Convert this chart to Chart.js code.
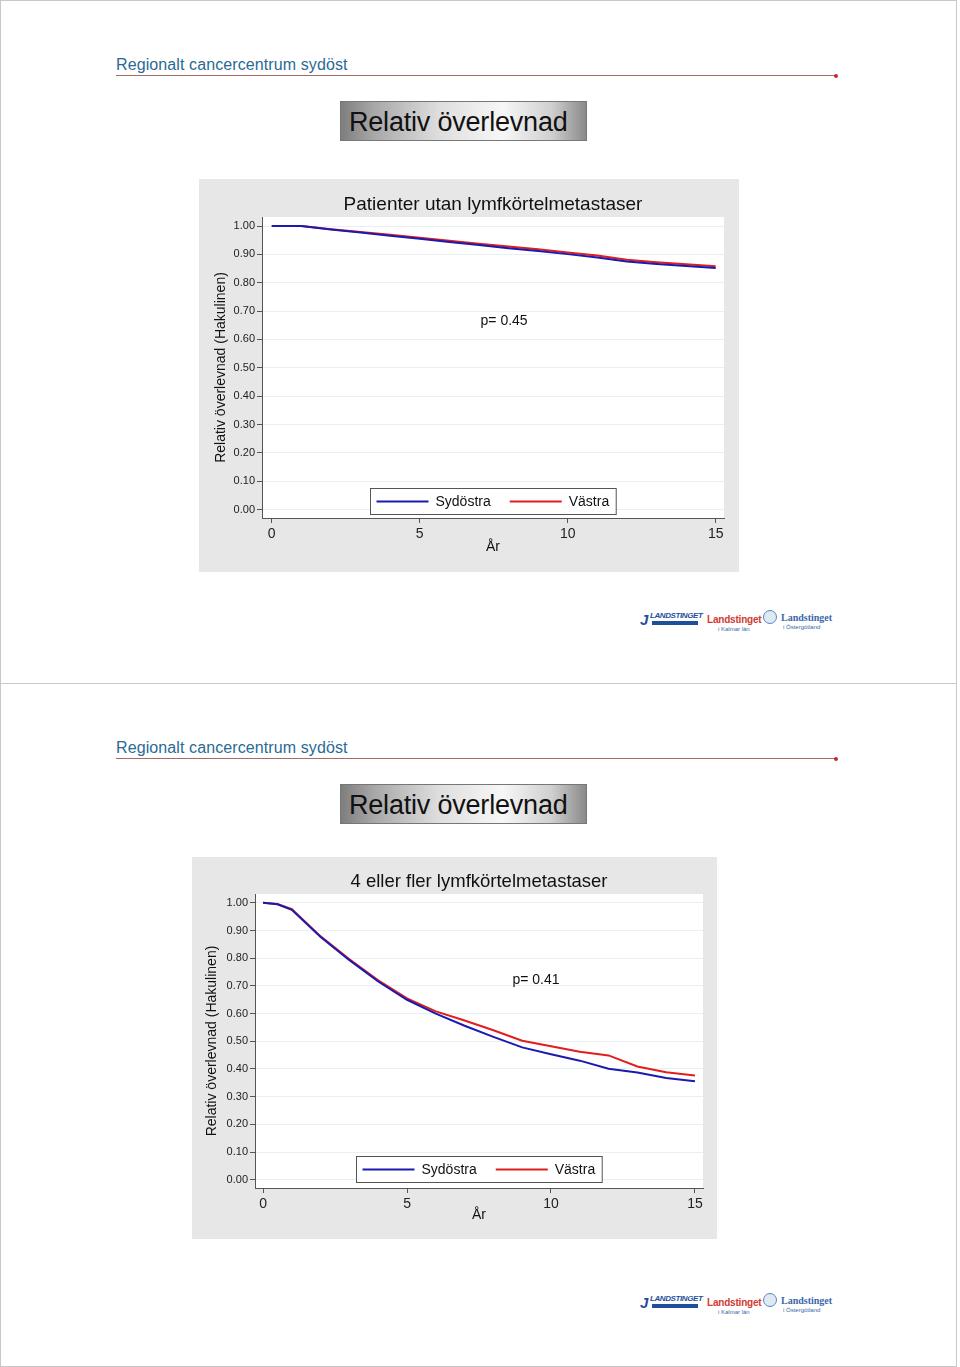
<!DOCTYPE html>
<html>
<head>
<meta charset="utf-8">
<script src="https://cdn.jsdelivr.net/npm/chart.js@4.4.1/dist/chart.umd.min.js"></script>
<style>
  html, body { margin:0; padding:0; background:#ffffff; }
  body { width:960px; height:1367px; position:relative; overflow:hidden; font-family:'Liberation Sans', Arial, sans-serif; }
  .slide { position:absolute; left:0; width:957px; border:1px solid #c8c8c8; box-sizing:border-box; background:#fff; }
  .hdr { position:absolute; left:116px; font-size:16px; color:#2a6a93; letter-spacing:0.1px; }
  .hline { position:absolute; left:116px; width:720px; height:1px; background:#a86a66; }
  .hdot { position:absolute; width:4px; height:4px; border-radius:2px; background:#c0302a; }
  .tbox { position:absolute; left:340px; width:247px; height:40px; box-sizing:border-box;
          border:1px solid #777; font-size:27px; color:#111; line-height:40px; padding-left:8px; letter-spacing:-0.2px;
          background:linear-gradient(to right,#7e7e7e 0%,#a9a9a9 14%,#dedede 40%,#f7f7f7 66%,#cfcfcf 86%,#8a8a8a 100%); }
  canvas { position:absolute; }
  .logo { position:absolute; white-space:nowrap; }
  .l1 { font:italic bold 8px 'Liberation Sans', Arial; color:#1f4e9a; letter-spacing:-0.4px; }
  .l1s { position:absolute; width:46px; height:4px; background:#1f4e9a; }
  .l2 { font:bold 10px 'Liberation Sans', Arial; color:#d23a32; letter-spacing:-0.2px; }
  .l3 { font:bold 10px 'Liberation Serif', serif; color:#3a68a8; }
  .l3s { font:6px 'Liberation Sans', Arial; color:#3a68a8; }
  .circ { position:absolute; width:14px; height:14px; border-radius:7px; border:1px solid #5a86bb; box-sizing:border-box; background:#dfe9f5; }
  .jj { font:italic bold 15px 'Liberation Sans', Arial; color:#1f4e9a; }
</style>
</head>
<body>
<div class="slide" style="top:0;height:684px;"></div>
<div class="slide" style="top:683px;height:684px;"></div>

<!-- slide 1 -->
<div class="hdr" style="top:56px;">Regionalt cancercentrum sydöst</div>
<div class="hline" style="top:75px;"></div>
<div class="hdot" style="left:834px;top:74px;"></div>
<div class="tbox" style="top:101px;">Relativ överlevnad</div>
<canvas id="c1" width="540" height="393" style="left:199px;top:179px;"></canvas>
<div class="logo jj" style="left:640px;top:611px;">J</div>
<div class="logo l1" style="left:650px;top:611px;">LANDSTINGET</div>
<div class="l1s" style="left:652px;top:621px;"></div>
<div class="logo l2" style="left:707px;top:614px;">Landstinget</div>
<div class="logo l3s" style="left:718px;top:626px;">i Kalmar län</div>
<div class="circ" style="left:763px;top:610px;"></div>
<div class="logo l3" style="left:781px;top:612px;">Landstinget</div>
<div class="logo l3s" style="left:783px;top:624px;">i Östergötland</div>

<!-- slide 2 -->
<div class="hdr" style="top:739px;">Regionalt cancercentrum sydöst</div>
<div class="hline" style="top:758px;"></div>
<div class="hdot" style="left:834px;top:757px;"></div>
<div class="tbox" style="top:784px;">Relativ överlevnad</div>
<canvas id="c2" width="525" height="382" style="left:192px;top:857px;"></canvas>
<div class="logo jj" style="left:640px;top:1294px;">J</div>
<div class="logo l1" style="left:650px;top:1294px;">LANDSTINGET</div>
<div class="l1s" style="left:652px;top:1304px;"></div>
<div class="logo l2" style="left:707px;top:1297px;">Landstinget</div>
<div class="logo l3s" style="left:718px;top:1309px;">i Kalmar län</div>
<div class="circ" style="left:763px;top:1293px;"></div>
<div class="logo l3" style="left:781px;top:1295px;">Landstinget</div>
<div class="logo l3s" style="left:783px;top:1307px;">i Östergötland</div>

<script>
// ---------------- data ----------------
const seriesNames = ['Sydöstra', 'Västra'];
const xTickValues = [0, 5, 10, 15];
const yTickValues = [0, 0.1, 0.2, 0.3, 0.4, 0.5, 0.6, 0.7, 0.8, 0.9, 1.0];

const title1 = 'Patienter utan lymfkörtelmetastaser';
const pText1 = 'p= 0.45';
const years1 = [0, 1, 2, 3, 4, 5, 6, 7, 8, 9, 10, 11, 12, 13, 14, 15];
const sydostra1 = [1.000, 1.000, 0.988, 0.977, 0.966, 0.955, 0.944, 0.933, 0.922, 0.912, 0.901, 0.889, 0.875, 0.866, 0.859, 0.852];
const vastra1   = [1.000, 1.000, 0.989, 0.979, 0.969, 0.959, 0.948, 0.938, 0.928, 0.918, 0.907, 0.896, 0.881, 0.872, 0.865, 0.858];

const title2 = '4 eller fler lymfkörtelmetastaser';
const pText2 = 'p= 0.41';
const years2 = [0, 0.5, 1, 2, 3, 4, 5, 6, 7, 8, 9, 10, 11, 12, 13, 14, 15];
const sydostra2 = [1.000, 0.995, 0.975, 0.877, 0.793, 0.716, 0.650, 0.600, 0.556, 0.516, 0.478, 0.453, 0.430, 0.401, 0.387, 0.367, 0.356];
const vastra2   = [1.000, 0.996, 0.977, 0.879, 0.796, 0.720, 0.655, 0.608, 0.575, 0.540, 0.502, 0.482, 0.462, 0.449, 0.409, 0.388, 0.376];

// ---------------- chart setup ----------------
Chart.defaults.font.family = "'Liberation Sans', Arial, sans-serif";
Chart.defaults.color = '#222';

const BLUE = '#1a1ab0';
const RED = '#e01e1e';
const BG = '#e7e7e7';

const bgPlugin = {
  id: 'bgPlugin',
  beforeDraw(chart) {
    const {ctx, chartArea: a} = chart;
    ctx.save();
    ctx.fillStyle = BG;
    ctx.fillRect(0, 0, chart.width, chart.height);
    ctx.fillStyle = '#ffffff';
    ctx.fillRect(a.left, a.top, a.right - a.left, a.bottom - a.top);
    ctx.restore();
  }
};

const notePlugin = {
  id: 'notePlugin',
  afterDraw(chart, args, opts) {
    const {ctx, chartArea: a, scales} = chart;
    ctx.save();
    ctx.font = "14px 'Liberation Sans', Arial, sans-serif";
    ctx.fillStyle = '#111';
    ctx.textAlign = 'center';
    ctx.textBaseline = 'middle';
    ctx.fillText(opts.pText, scales.x.getPixelForValue(opts.pX), scales.y.getPixelForValue(opts.pY));
    const ds = chart.data.datasets;
    const lineLen = 52, padL = 6, gapT = 7, gapB = 19, padR = 7;
    const w0 = ctx.measureText(ds[0].label).width;
    const w1 = ctx.measureText(ds[1].label).width;
    const bw = padL + lineLen + gapT + w0 + gapB + lineLen + gapT + w1 + padR;
    const bh = 26;
    const cx = (a.left + a.right) / 2;
    const bx = Math.round(cx - bw / 2) + 0.5;
    const by = Math.round(a.bottom - opts.legendGap - bh) + 0.5;
    ctx.fillStyle = '#ffffff';
    ctx.fillRect(bx, by, bw, bh);
    ctx.strokeStyle = '#555';
    ctx.lineWidth = 1;
    ctx.strokeRect(bx, by, bw, bh);
    const my = by + bh / 2;
    let x = bx + padL;
    ctx.lineWidth = 2;
    ctx.strokeStyle = ds[0].borderColor;
    ctx.beginPath(); ctx.moveTo(x, my); ctx.lineTo(x + lineLen, my); ctx.stroke();
    x += lineLen + gapT;
    ctx.textAlign = 'left';
    ctx.fillStyle = '#111';
    ctx.fillText(ds[0].label, x, my + 1);
    x += w0 + gapB;
    ctx.strokeStyle = ds[1].borderColor;
    ctx.beginPath(); ctx.moveTo(x, my); ctx.lineTo(x + lineLen, my); ctx.stroke();
    x += lineLen + gapT;
    ctx.fillText(ds[1].label, x, my + 1);
    ctx.restore();
  }
};

function makeChart(id, cfg) {
  const mk = (xs, ys) => xs.map((x, i) => ({x: x, y: ys[i]}));
  return new Chart(document.getElementById(id), {
    type: 'line',
    data: {
      datasets: [
        {label: seriesNames[0], data: mk(cfg.years, cfg.s1), borderColor: BLUE, borderWidth: 2, pointRadius: 0, tension: 0, fill: false},
        {label: seriesNames[1], data: mk(cfg.years, cfg.s2), borderColor: RED, borderWidth: 2, pointRadius: 0, tension: 0, fill: false}
      ]
    },
    options: {
      responsive: false,
      animation: false,
      devicePixelRatio: 1,
      layout: {padding: {left: 0, right: cfg.padRight, top: 0, bottom: 0}},
      plugins: {
        legend: {display: false},
        tooltip: {enabled: false},
        title: {
          display: true, text: cfg.title, fullSize: false, color: '#111',
          font: {size: cfg.titleSize, weight: 'normal'}, padding: {top: cfg.titleTop, bottom: cfg.titleBottom}
        },
        notePlugin: {pText: cfg.pText, pX: cfg.pX, pY: cfg.pY, legendGap: cfg.legendGap}
      },
      scales: {
        x: {
          type: 'linear', min: cfg.xmin, max: 15.28,
          afterBuildTicks: s => { s.ticks = xTickValues.map(v => ({value: v})); },
          afterFit: s => { s.height = cfg.xAxisH; },
          ticks: {font: {size: 14}, color: '#222', padding: 3, callback: v => String(v), maxRotation: 0},
          grid: {display: true, drawOnChartArea: false, drawTicks: true, tickLength: 5, tickColor: '#555'},
          border: {display: true, color: '#555', width: 1},
          title: {display: true, text: 'År', font: {size: 14}, color: '#111', padding: {top: 0, bottom: cfg.xTitlePad}}
        },
        y: {
          type: 'linear', min: -0.03, max: 1.032,
          afterBuildTicks: s => { s.ticks = yTickValues.map(v => ({value: v})); },
          afterFit: s => { s.width = 63; },
          ticks: {font: {size: 11}, color: '#222', padding: 2, callback: v => Number(v).toFixed(2)},
          grid: {display: true, color: '#e9f0f1', lineWidth: 1, drawTicks: true, tickLength: 5, tickColor: '#555'},
          border: {display: true, color: '#555', width: 1},
          title: {display: true, text: 'Relativ överlevnad (Hakulinen)', font: {size: 14}, color: '#111', padding: {top: cfg.yTitlePad, bottom: 0}}
        }
      }
    },
    plugins: [bgPlugin, notePlugin]
  });
}

makeChart('c1', {
  years: years1, s1: sydostra1, s2: vastra1, title: title1, pText: pText1, titleSize: 19,
  pX: 7.85, pY: 0.663, padRight: 15, titleTop: 14, titleBottom: 1.2, xAxisH: 54, xTitlePad: 16,
  yTitlePad: 14, xmin: -0.33, legendGap: 4
});
makeChart('c2', {
  years: years2, s1: sydostra2, s2: vastra2, title: title2, pText: pText2, titleSize: 18.5,
  pX: 9.48, pY: 0.721, padRight: 14, titleTop: 14, titleBottom: 0.8, xAxisH: 51, xTitlePad: 15,
  yTitlePad: 12, xmin: -0.28, legendGap: 6
});
</script>
</body>
</html>
